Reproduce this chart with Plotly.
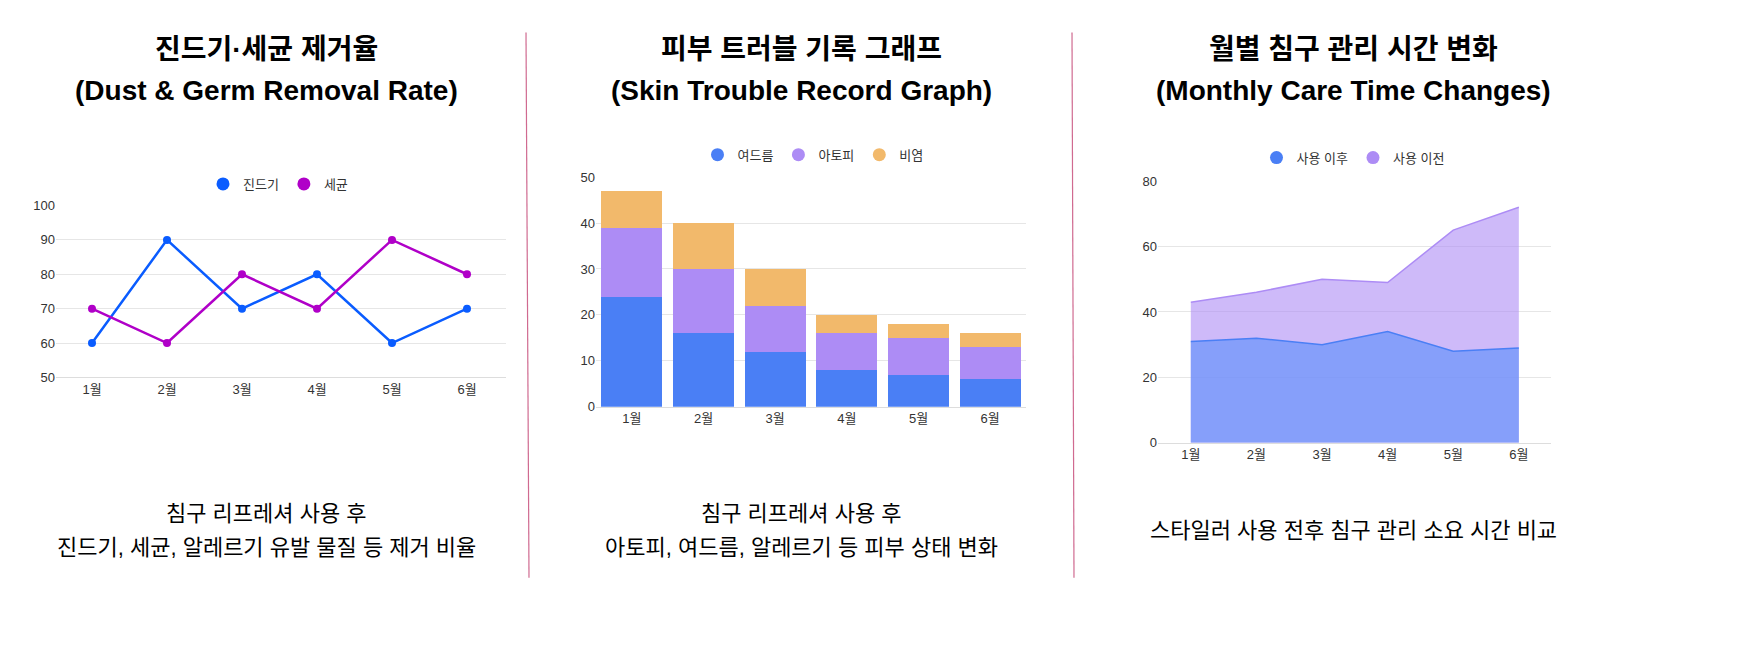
import plotly.graph_objects as go

months = ["1월", "2월", "3월", "4월", "5월", "6월"]
dust = [60, 90, 70, 80, 60, 70]
germ = [70, 60, 80, 70, 90, 80]
acne = [24, 16, 12, 8, 7, 6]
atopy = [15, 14, 10, 8, 8, 7]
rhinitis = [8, 10, 8, 4, 3, 3]
after_use = [31, 32, 30, 34, 28, 29]
before_use = [43, 46, 50, 49, 65, 72]

W, H = 1757, 648
F = "Liberation Sans, Noto Sans CJK KR, sans-serif"
fig = go.Figure()

def px(x): return x / W
def py(y): return 1 - y / H

def leg(name, color, lg):
    fig.add_trace(go.Scatter(x=[None], y=[None], mode="markers", name=name,
                             marker=dict(color=color, size=13, symbol="circle"),
                             showlegend=True, legend=lg))

# Panel 1
fig.add_trace(go.Scatter(x=months, y=dust, mode="lines+markers", line=dict(color="#0a5cff", width=2.5),
                         marker=dict(size=8), showlegend=False, xaxis="x", yaxis="y"))
fig.add_trace(go.Scatter(x=months, y=germ, mode="lines+markers", line=dict(color="#b000c8", width=2.5),
                         marker=dict(size=8), showlegend=False, xaxis="x", yaxis="y"))
leg("진드기", "#0a5cff", "legend"); leg("세균", "#b000c8", "legend")

# Panel 2
for vals, c in [(acne, "#4a7ff5"), (atopy, "#ad8cf5"), (rhinitis, "#f2b96b")]:
    fig.add_trace(go.Bar(x=months, y=vals, marker=dict(color=c, line=dict(width=0)),
                         showlegend=False, xaxis="x2", yaxis="y2"))
leg("여드름", "#4a7ff5", "legend2"); leg("아토피", "#ad8cf5", "legend2"); leg("비염", "#f2b96b", "legend2")

# Panel 3
fig.add_trace(go.Scatter(x=months, y=before_use, fill="tozeroy", mode="lines",
                         line=dict(color="#ad8cf5", width=1.5), fillcolor="rgba(173,140,245,0.6)",
                         showlegend=False, xaxis="x3", yaxis="y3"))
fig.add_trace(go.Scatter(x=months, y=after_use, fill="tozeroy", mode="lines",
                         line=dict(color="#4a7ff5", width=1.5), fillcolor="rgba(110,150,250,0.75)",
                         showlegend=False, xaxis="x3", yaxis="y3"))
leg("사용 이후", "#4a7ff5", "legend3"); leg("사용 이전", "#ad8cf5", "legend3")

ax = dict(showgrid=False, showline=True, linecolor="#dddddd", tickfont=dict(size=13, color="#333"),
          ticks="", fixedrange=True)
ay = dict(showgrid=True, gridcolor="#e6e6e6", zeroline=False, tickfont=dict(size=13, color="#333"),
          ticks="", fixedrange=True)

legcommon = dict(orientation="h", xanchor="center", yanchor="middle", font=dict(size=13, family=F, color="#333"),
                 bgcolor="rgba(0,0,0,0)", traceorder="normal", itemwidth=30)

fig.update_layout(
    width=W, height=H, margin=dict(l=0, r=0, t=0, b=0),
    paper_bgcolor="white", plot_bgcolor="white", font=dict(family=F),
    barmode="stack", bargap=0.15,
    xaxis=dict(ax, domain=[px(48), px(498)], anchor="y", range=[-0.48, 5.52], type="category"),
    yaxis=dict(ay, domain=[py(371), py(195)], anchor="x", range=[50, 100], dtick=10),
    xaxis2=dict(ax, domain=[px(588), px(1018)], anchor="y2", type="category"),
    yaxis2=dict(ay, domain=[py(401), py(166)], anchor="x2", range=[0, 50], dtick=10),
    xaxis3=dict(ax, domain=[px(1150), px(1543)], anchor="y3", range=[-0.5, 5.49], type="category"),
    yaxis3=dict(ay, domain=[py(438), py(170)], anchor="x3", range=[0, 80], dtick=20),
    legend=dict(legcommon, x=px(270), y=py(173)),
    legend2=dict(legcommon, x=px(805), y=py(143)),
    legend3=dict(legcommon, x=px(1345), y=py(146)),
)

def txt(x, y, s, size, bold=False):
    fig.add_annotation(x=px(x), y=py(y), xref="paper", yref="paper", text=f"<b>{s}</b>" if bold else s,
                       showarrow=False, font=dict(size=size, color="#000", family=F),
                       xanchor="center", yanchor="middle")

txt(258, 35, "진드기·세균 제거율", 28, True); txt(258, 77, "(Dust & Germ Removal Rate)", 28, True)
txt(793, 35, "피부 트러블 기록 그래프", 28, True); txt(793, 77, "(Skin Trouble Record Graph)", 28, True)
txt(1345, 35, "월별 침구 관리 시간 변화", 28, True); txt(1345, 77, "(Monthly Care Time Changes)", 28, True)
txt(258, 510, "침구 리프레셔 사용 후", 22); txt(258, 545, "진드기, 세균, 알레르기 유발 물질 등 제거 비율", 22)
txt(793, 510, "침구 리프레셔 사용 후", 22); txt(793, 545, "아토피, 여드름, 알레르기 등 피부 상태 변화", 22)
txt(1345, 528, "스타일러 사용 전후 침구 관리 소요 시간 비교", 22)

for x0, x1 in [(518, 521), (1064, 1066)]:
    fig.add_shape(type="line", xref="paper", yref="paper", x0=px(x0), x1=px(x1), y0=py(18), y1=py(576),
                  line=dict(color="#d06a90", width=1.2))

fig.write_html("out.html")
